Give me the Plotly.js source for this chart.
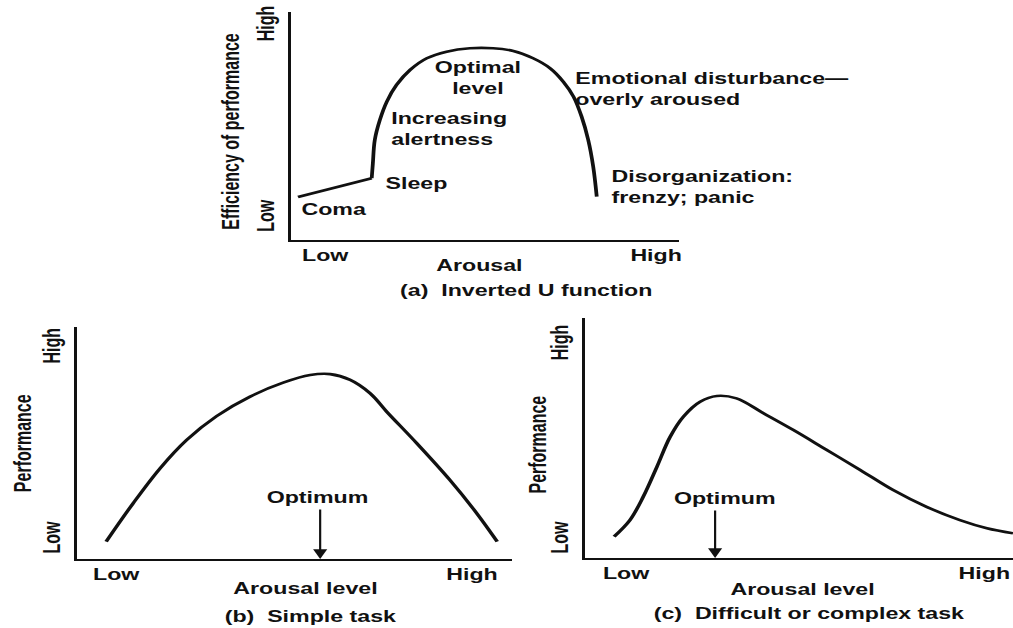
<!DOCTYPE html>
<html><head><meta charset="utf-8">
<script src="https://cdn.plot.ly/plotly-3.0.1.min.js"></script>
<style>
html,body{margin:0;padding:0;background:#fff;overflow:hidden}
#wrap{width:1013px;height:628px;overflow:hidden;position:relative}
#plot{width:699px;height:628px;transform:scaleX(1.44921);transform-origin:0 0}
</style></head><body>
<div id="wrap"><div id="plot"></div></div>
<script>
// ---- data (arbitrary 0-100 scales: arousal vs. performance) ----
// (a) Inverted U function
const aSegX = [1.8, 20.8];
const aSegY = [18.9, 27.1];
const aCurveX = [20.8, 21.1, 21.6, 22.9, 24.7, 27.2, 30.7, 35.0, 40.1, 46.1, 52.1, 57.3, 62.4, 66.8, 70.2, 72.8, 74.9, 76.6, 77.9, 78.8];
const aCurveY = [27.1, 33.6, 43.9, 52.6, 60.7, 68.0, 74.6, 79.7, 82.6, 84.1, 84.1, 82.9, 79.7, 75.3, 69.4, 62.9, 54.1, 43.9, 32.1, 19.0];
// (b) Simple task
const bX = [6.7, 12.9, 19.1, 25.2, 32.1, 39.8, 47.4, 53.6, 58.2, 62.8, 67.4, 71.2, 78.1, 85.7, 91.9, 96.6];
const bY = [7.5, 24.0, 39.1, 51.3, 61.6, 70.0, 76.0, 79.3, 79.7, 77.2, 71.4, 63.5, 49.9, 34.1, 19.7, 7.5];
// (c) Difficult or complex task
const cX = [6.8, 10.5, 13.6, 16.8, 19.9, 23.0, 26.9, 30.8, 35.4, 41.7, 48.7, 56.5, 64.3, 72.0, 79.8, 87.6, 93.9, 100];
const cY = [8.9, 15.8, 25.5, 38.0, 50.5, 58.9, 65.1, 67.5, 66.5, 60.3, 53.3, 45.0, 36.7, 28.3, 21.3, 15.8, 12.4, 10.3];
// optimum arousal marked by arrows
const optimumB = [55.9];
const optimumC = [30.4];
// tick labels
const tickText = ['Low', 'High'];
const aTickX = [8.8, 94.1], aTickY = [9.6, 93.9];
const bTickX = [9.0, 90.8], bTickY = [8.2, 90.9];
const cTickX = [9.6, 93.3], cTickY = [7.5, 88.8];

// ---- layout helpers ----
const W = 1013, H = 628;
const INK = '#111';
const FONT = {family: 'Liberation Sans, Arial, sans-serif', size: 16, color: INK, weight: 'bold'};
const px = v => v / W;
const py = v => 1 - v / H;

function xAxis(l, r, tv, anchor) {
  return {domain: [px(l), px(r)], range: [0, 100], anchor: anchor,
    showgrid: false, zeroline: false, showline: true, linecolor: INK, linewidth: 2,
    ticks: '', tickvals: tv, ticktext: tickText, tickfont: FONT, ticklabelstandoff: 0,
    ticklabeloverflow: 'allow', fixedrange: true};
}
function yAxis(t, b, tv, anchor) {
  return {domain: [py(b), py(t)], range: [0, 100], anchor: anchor,
    showgrid: false, zeroline: false, showline: true, linecolor: INK, linewidth: 2,
    ticks: '', tickvals: tv, ticktext: tickText, tickangle: -90, tickfont: FONT, ticklabelstandoff: 3,
    ticklabeloverflow: 'allow', fixedrange: true};
}

const lineStyle = {color: INK, width: 2.6};
const traces = [
  {x: aSegX, y: aSegY, xaxis: 'x', yaxis: 'y', mode: 'lines', line: Object.assign({shape: 'linear'}, lineStyle), hoverinfo: 'skip'},
  {x: aCurveX, y: aCurveY, xaxis: 'x', yaxis: 'y', mode: 'lines', line: Object.assign({shape: 'spline', smoothing: 1}, lineStyle), hoverinfo: 'skip'},
  {x: bX, y: bY, xaxis: 'x2', yaxis: 'y2', mode: 'lines', line: Object.assign({shape: 'spline', smoothing: 1}, lineStyle), hoverinfo: 'skip'},
  {x: cX, y: cY, xaxis: 'x3', yaxis: 'y3', mode: 'lines', line: Object.assign({shape: 'spline', smoothing: 1}, lineStyle), hoverinfo: 'skip'}
];

function txt(text, x, y, xref, yref, opts) {
  return Object.assign({text: text, x: x, y: y, xref: xref, yref: yref, showarrow: false,
    font: FONT, xanchor: 'center', yanchor: 'middle', align: 'center'}, opts || {});
}
const P = 'paper';
const annotations = [
  // panel (a) labels
  txt('Coma', 1.8, 13.2, 'x', 'y', {xanchor: 'left', align: 'left'}),
  txt('Sleep', 23.5, 25, 'x', 'y', {xanchor: 'left', align: 'left'}),
  txt('Increasing<br>alertness', 25, 48.5, 'x', 'y', {xanchor: 'left', align: 'left'}),
  txt('Optimal<br>level', 48.2, 71.1, 'x', 'y'),
  txt('Emotional disturbance\u2014<br>overly aroused', 72.7, 66.4, 'x', 'y', {xanchor: 'left', align: 'left'}),
  txt('Disorganization:<br>frenzy; panic', 81.7, 23.2, 'x', 'y', {xanchor: 'left', align: 'left'}),
  txt('Arousal', px(479), py(265), P, P),
  txt('(a)\u00a0 Inverted U function', px(526), py(290), P, P),
  txt('Efficiency of performance', px(230), py(131), P, P, {textangle: -90}),
  // panel (b)
  txt('Performance', px(22), py(443), P, P, {textangle: -90}),
  txt('Arousal level', px(306), py(588), P, P),
  txt('(b)\u00a0 Simple task', px(310), py(616), P, P),
  txt('Optimum', 55.4, 26.7, 'x2', 'y2'),
  {text: '', x: optimumB[0], y: 0, xref: 'x2', yref: 'y2', ax: optimumB[0], ay: 22, axref: 'x2', ayref: 'y2',
   showarrow: true, arrowhead: 2, arrowsize: 1.3, arrowwidth: 1.5, arrowcolor: INK, standoff: 0, startstandoff: 0},
  // panel (c)
  txt('Performance', px(537), py(445), P, P, {textangle: -90}),
  txt('Arousal level', px(803), py(589), P, P),
  txt('(c)\u00a0 Difficult or complex task', px(808), py(613), P, P),
  txt('Optimum', 32.7, 25, 'x3', 'y3'),
  {text: '', x: optimumC[0], y: 0, xref: 'x3', yref: 'y3', ax: optimumC[0], ay: 20.4, axref: 'x3', ayref: 'y3',
   showarrow: true, arrowhead: 2, arrowsize: 1.3, arrowwidth: 1.5, arrowcolor: INK, standoff: 0, startstandoff: 0}
];

const layout = {
  width: 699, height: 628,
  margin: {l: 0, r: 0, t: 0, b: 0, pad: 0},
  paper_bgcolor: '#fff', plot_bgcolor: 'rgba(0,0,0,0)',
  showlegend: false,
  font: FONT,
  xaxis: xAxis(291, 679, aTickX, 'y'),
  yaxis: yAxis(12, 240, aTickY, 'x'),
  xaxis2: xAxis(77, 512, bTickX, 'y2'),
  yaxis2: yAxis(327, 559, bTickY, 'x2'),
  xaxis3: xAxis(585, 1013, cTickX, 'y3'),
  yaxis3: yAxis(318, 558, cTickY, 'x3'),
  annotations: annotations
};

Plotly.newPlot('plot', traces, layout, {staticPlot: true, displayModeBar: false, responsive: false});
</script>
</body></html>
